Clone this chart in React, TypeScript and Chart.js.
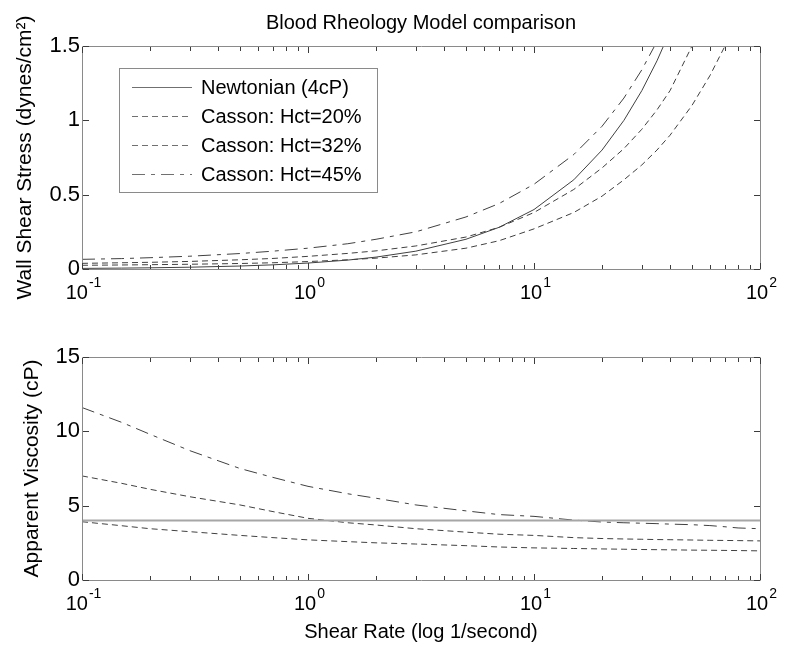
import React, { useEffect, useRef } from 'react';
import { Chart, registerables } from 'chart.js';

Chart.register(...registerables);

// ---------- data ----------
const SHEAR_RATE = [0.1, 0.15, 0.2, 0.3, 0.5, 0.7, 1, 1.5, 2, 3, 5, 7, 10, 15, 20, 25, 30, 35, 40, 50, 60, 70, 80, 100];

// Wall shear stress (dynes/cm^2)
const STRESS_NEWTONIAN = [0.004, 0.006, 0.008, 0.012, 0.02, 0.028, 0.04, 0.06, 0.08, 0.12, 0.2, 0.28, 0.4, 0.6, 0.8, 1.0, 1.2, 1.4, 1.6, null, null, null, null, null];
const STRESS_HCT20 = [0.025, 0.027, 0.029, 0.032, 0.037, 0.042, 0.05, 0.062, 0.073, 0.095, 0.14, 0.19, 0.27, 0.38, 0.49, 0.6, 0.7, 0.8, 0.9, 1.1, 1.3, 1.5, 1.7, null];
const STRESS_HCT32 = [0.038, 0.042, 0.045, 0.051, 0.062, 0.071, 0.085, 0.105, 0.122, 0.155, 0.215, 0.28, 0.38, 0.535, 0.68, 0.81, 0.94, 1.07, 1.2, 1.5, 1.76, null, null, null];
const STRESS_HCT45 = [0.065, 0.07, 0.076, 0.086, 0.104, 0.12, 0.14, 0.17, 0.2, 0.25, 0.35, 0.44, 0.57, 0.77, 0.96, 1.15, 1.34, 1.53, 1.72, null, null, null, null, null];

// Apparent viscosity (cP)
const VISC_NEWTONIAN = [4, 4, 4, 4, 4, 4, 4, 4, 4, 4, 4, 4, 4, 4, 4, 4, 4, 4, 4, 4, 4, 4, 4, 4];
const VISC_HCT20 = [3.92, 3.65, 3.45, 3.25, 3.0, 2.85, 2.7, 2.58, 2.5, 2.42, 2.31, 2.22, 2.16, 2.12, 2.09, 2.07, 2.05, 2.04, 2.03, 2.01, 2.0, 1.99, 1.98, 1.96];
const VISC_HCT32 = [7.0, 6.5, 6.1, 5.6, 5.05, 4.6, 4.15, 3.85, 3.7, 3.45, 3.22, 3.08, 3.0, 2.85, 2.79, 2.76, 2.74, 2.72, 2.71, 2.69, 2.67, 2.66, 2.65, 2.63];
const VISC_HCT45 = [11.6, 10.6, 9.8, 8.7, 7.5, 6.9, 6.3, 5.8, 5.5, 5.05, 4.65, 4.4, 4.28, 4.03, 3.9, 3.85, 3.82, 3.79, 3.76, 3.72, 3.66, 3.58, 3.5, 3.45];

const SERIES_LABELS = ['Newtonian (4cP)', 'Casson: Hct=20%', 'Casson: Hct=32%', 'Casson: Hct=45%'];
const X_MAJOR_TICKS = [0.1, 1, 10, 100];
const STRESS_TICKS = [0, 0.5, 1, 1.5];
const VISC_TICKS = [0, 5, 10, 15];

const TITLE = 'Blood Rheology Model comparison';
const TOP_Y_TITLE = 'Wall Shear Stress (dynes/cm²)';
const BOTTOM_Y_TITLE = 'Apparent Viscosity (cP)';
const X_TITLE = 'Shear Rate (log 1/second)';

// ---------- styles ----------
const FONT = 'Arial, "Liberation Sans", Helvetica, sans-serif';
const CURVE = '#404040';
const FRAME = '#8a8a8a';
const TICK = '#3c3c3c';
const DASH = [6, 4];
const DASH_DOT = [13, 6, 4, 6];

function pts(values: (number | null)[]) {
  return SHEAR_RATE.map((x, i) => ({ x, y: values[i] }));
}

function ds(label: string, values: (number | null)[], dash: number[], color = CURVE, width = 1) {
  return {
    label,
    data: pts(values),
    borderColor: color,
    backgroundColor: color,
    borderWidth: width,
    borderDash: dash,
    pointRadius: 0,
    tension: 0,
    fill: false,
  };
}

function framePlugin(yTicks: number[]) {
  return {
    id: 'matlabFrame',
    afterDraw(chart: any) {
      const { ctx, chartArea: ca, scales } = chart;
      const xs = scales.x;
      const ys = scales.y;
      const L = Math.round(ca.left);
      const R = Math.round(ca.right);
      const T = Math.round(ca.top);
      const B = Math.round(ca.bottom);
      ctx.save();
      ctx.setLineDash([]);
      // frame
      ctx.strokeStyle = FRAME;
      ctx.lineWidth = 1;
      ctx.beginPath();
      ctx.moveTo(L + 0.5, T + 0.5);
      ctx.lineTo(R + 0.5, T + 0.5);
      ctx.lineTo(R + 0.5, B + 0.5);
      ctx.lineTo(L + 0.5, B + 0.5);
      ctx.closePath();
      ctx.stroke();
      // ticks
      ctx.strokeStyle = TICK;
      ctx.beginPath();
      for (let d = -1; d <= 2; d++) {
        for (let k = 1; k <= 9; k++) {
          const v = k * Math.pow(10, d);
          if (v > 100.0001) break;
          const x = Math.round(xs.getPixelForValue(v)) + 0.5;
          const len = k === 1 ? 6 : 4;
          ctx.moveTo(x, B);
          ctx.lineTo(x, B - len);
          ctx.moveTo(x, T + 1);
          ctx.lineTo(x, T + 1 + len);
        }
      }
      yTicks.forEach((v) => {
        const y = Math.round(ys.getPixelForValue(v)) + 0.5;
        ctx.moveTo(L + 1, y);
        ctx.lineTo(L + 7, y);
        ctx.moveTo(R, y);
        ctx.lineTo(R - 6, y);
      });
      ctx.stroke();
      // x tick labels 10^n
      ctx.fillStyle = '#000';
      ctx.textBaseline = 'middle';
      ctx.textAlign = 'left';
      X_MAJOR_TICKS.forEach((v) => {
        const x = xs.getPixelForValue(v);
        const exp = String(Math.round(Math.log10(v)));
        ctx.font = `20px ${FONT}`;
        const wb = ctx.measureText('10').width;
        ctx.font = `14px ${FONT}`;
        const we = ctx.measureText(exp).width;
        const start = x - (wb + we) / 2 + 1;
        const y = B + 24;
        ctx.font = `20px ${FONT}`;
        ctx.fillText('10', start, y);
        ctx.font = `14px ${FONT}`;
        ctx.fillText(exp, start + wb + 1, y - 10);
      });
      ctx.restore();
    },
  };
}

const legendPlugin = {
  id: 'boxLegend',
  afterDraw(chart: any) {
    const { ctx, chartArea: ca } = chart;
    const bx = Math.round(ca.left) + 37;
    const by = Math.round(ca.top) + 22;
    const bw = 258;
    const bh = 124;
    ctx.save();
    ctx.fillStyle = '#fff';
    ctx.fillRect(bx, by, bw, bh);
    ctx.strokeStyle = FRAME;
    ctx.lineWidth = 1;
    ctx.setLineDash([]);
    ctx.strokeRect(bx + 0.5, by + 0.5, bw, bh);
    chart.data.datasets.forEach((d: any, i: number) => {
      const cy = by + 19 + i * 29;
      ctx.strokeStyle = '#707070';
      ctx.lineWidth = 1;
      ctx.setLineDash(d.borderDash || []);
      ctx.beginPath();
      ctx.moveTo(bx + 13, cy + 0.5);
      ctx.lineTo(bx + 73, cy + 0.5);
      ctx.stroke();
      ctx.setLineDash([]);
      ctx.fillStyle = '#000';
      ctx.font = `20px ${FONT}`;
      ctx.textBaseline = 'middle';
      ctx.textAlign = 'left';
      ctx.fillText(d.label, bx + 82, cy + 1);
    });
    ctx.restore();
  },
};

function baseScales(yMin: number, yMax: number, step: number, yTitle: string, titlePad: number, xHeight: number, xTitle: string | null) {
  return {
    x: {
      type: 'logarithmic',
      min: 0.1,
      max: 100,
      grid: { display: false, drawTicks: false },
      border: { display: false },
      ticks: { display: false },
      title: xTitle
        ? { display: true, text: xTitle, color: '#000', font: { family: FONT, size: 20 }, padding: { top: 0, bottom: 10 } }
        : { display: false },
      afterFit: (s: any) => {
        s.height = xHeight;
      },
    },
    y: {
      type: 'linear',
      min: yMin,
      max: yMax,
      grid: { display: false, drawTicks: false },
      border: { display: false },
      ticks: {
        stepSize: step,
        color: '#000',
        padding: 2,
        font: { family: FONT, size: 22 },
        callback: (v: any) => String(Math.round(Number(v) * 100) / 100),
      },
      title: { display: true, text: yTitle, color: '#000', font: { family: FONT, size: 21 }, padding: { top: titlePad, bottom: 0 } },
      afterFit: (s: any) => {
        s.width = 82;
      },
    },
  };
}

export default function App() {
  const topRef = useRef<HTMLCanvasElement>(null);
  const botRef = useRef<HTMLCanvasElement>(null);

  useEffect(() => {
    const top = new Chart(topRef.current as HTMLCanvasElement, {
      type: 'line',
      data: {
        datasets: [
          ds(SERIES_LABELS[0], STRESS_NEWTONIAN, []),
          ds(SERIES_LABELS[1], STRESS_HCT20, DASH),
          ds(SERIES_LABELS[2], STRESS_HCT32, DASH),
          ds(SERIES_LABELS[3], STRESS_HCT45, DASH_DOT),
        ],
      } as any,
      options: {
        animation: false,
        responsive: false,
        devicePixelRatio: 1,
        layout: { padding: { left: 0, right: 26, top: 0, bottom: 0 } },
        plugins: {
          legend: { display: false },
          tooltip: { enabled: false },
          title: {
            display: true,
            text: TITLE,
            fullSize: false,
            color: '#000',
            font: { family: FONT, size: 20, weight: 'normal' },
            padding: { top: 11, bottom: 11 },
          },
        },
        scales: baseScales(0, 1.5, 0.5, TOP_Y_TITLE, 13, 41, null) as any,
      } as any,
      plugins: [framePlugin(STRESS_TICKS), legendPlugin],
    });

    const bot = new Chart(botRef.current as HTMLCanvasElement, {
      type: 'line',
      data: {
        datasets: [
          ds(SERIES_LABELS[0], VISC_NEWTONIAN, [], '#a6a6a6', 2),
          ds(SERIES_LABELS[1], VISC_HCT20, DASH),
          ds(SERIES_LABELS[2], VISC_HCT32, DASH),
          ds(SERIES_LABELS[3], VISC_HCT45, DASH_DOT),
        ],
      } as any,
      options: {
        animation: false,
        responsive: false,
        devicePixelRatio: 1,
        layout: { padding: { left: 0, right: 26, top: 47, bottom: 0 } },
        plugins: {
          legend: { display: false },
          tooltip: { enabled: false },
          title: { display: false },
        },
        scales: baseScales(0, 15, 5, BOTTOM_Y_TITLE, 20, 74, X_TITLE) as any,
      } as any,
      plugins: [framePlugin(VISC_TICKS)],
    });

    return () => {
      top.destroy();
      bot.destroy();
    };
  }, []);

  return (
    <div style={{ position: 'fixed', left: 0, top: 0, width: 786, height: 654, background: '#fff' }}>
      <canvas ref={topRef} width={786} height={310} style={{ position: 'absolute', left: 0, top: 0 }} />
      <canvas ref={botRef} width={786} height={344} style={{ position: 'absolute', left: 0, top: 310 }} />
    </div>
  );
}
